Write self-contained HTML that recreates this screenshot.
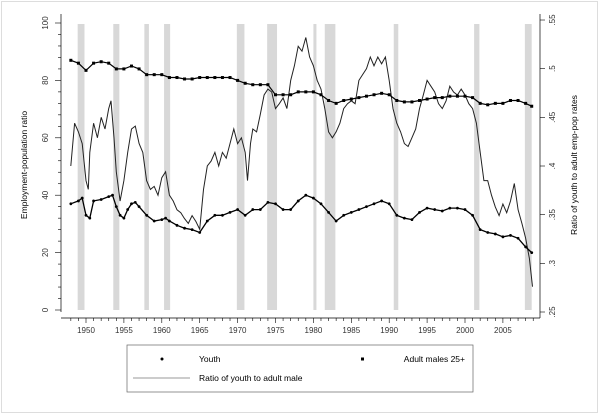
<!DOCTYPE html>
<html><head><meta charset="utf-8"><style>
body{margin:0;background:#fff;}
svg{display:block;font-family:"Liberation Sans",sans-serif;}
</style></head><body>
<svg id="chart" width="600" height="414" viewBox="0 0 600 414" xmlns="http://www.w3.org/2000/svg">
<rect x="1.5" y="1.5" width="596" height="411" fill="none" stroke="#bbb" stroke-dasharray="1,1"/>
<g id="bands"></g><g id="axes"></g><g id="series"></g>
<text transform="translate(27,165) rotate(-90)" font-size="8.5" text-anchor="middle">Employment-population ratio</text>
<text transform="translate(577,165) rotate(-90)" font-size="8.5" text-anchor="middle">Ratio of youth to adult emp-pop rates</text>
<g>
<rect x="127" y="345" width="346" height="47" fill="#fff" stroke="#666" stroke-width="0.7"/>
<circle cx="162" cy="359" r="1.5" fill="#000"/>
<text x="199" y="362" font-size="8.5">Youth</text>
<rect x="361" y="357.5" width="3" height="3" fill="#000"/>
<text x="465" y="362" font-size="8.5" text-anchor="end">Adult males 25+</text>
<line x1="133" y1="378" x2="190" y2="378" stroke="#999" stroke-width="1"/>
<text x="199" y="381" font-size="8.5">Ratio of youth to adult male</text>
</g>
</svg>
<script>
const recessions=[[1948.9,1949.8],[1953.6,1954.4],[1957.7,1958.3],[1960.3,1961.1],[1969.9,1970.9],[1973.9,1975.2],[1980.0,1980.4],[1981.5,1982.9],[1990.6,1991.2],[2001.2,2001.9],[2007.9,2008.8]];
const ratioYears=[1948,1948.5,1949,1949.5,1950,1950.3,1950.5,1951,1951.5,1952,1952.5,1953,1953.3,1953.7,1954,1954.5,1955,1955.5,1956,1956.5,1957,1957.5,1958,1958.5,1959,1959.5,1960,1960.5,1961,1961.5,1962,1962.5,1963,1963.5,1964,1964.5,1965,1965.5,1966,1966.5,1967,1967.5,1968,1968.5,1969,1969.5,1970,1970.5,1971,1971.3,1971.7,1972,1972.5,1973,1973.5,1974,1974.5,1975,1975.5,1976,1976.5,1977,1977.5,1978,1978.5,1979,1979.5,1980,1980.5,1981,1981.5,1982,1982.5,1983,1983.5,1984,1984.5,1985,1985.5,1986,1986.5,1987,1987.5,1988,1988.5,1989,1989.5,1990,1990.5,1991,1991.5,1992,1992.5,1993,1993.5,1994,1994.5,1995,1995.5,1996,1996.5,1997,1997.5,1998,1998.5,1999,1999.5,2000,2000.5,2001,2001.5,2002,2002.5,2003,2003.5,2004,2004.5,2005,2005.5,2006,2006.5,2007,2007.5,2008,2008.5,2008.9];
const ratioValues=[.400,.444,.435,.423,.385,.376,.414,.444,.429,.450,.438,.459,.467,.429,.394,.364,.385,.414,.438,.441,.423,.414,.385,.376,.379,.370,.388,.394,.370,.364,.355,.352,.346,.341,.349,.343,.335,.376,.400,.405,.414,.400,.414,.408,.423,.438,.423,.429,.414,.385,.423,.438,.435,.453,.473,.479,.476,.459,.464,.470,.459,.488,.503,.523,.518,.532,.512,.503,.488,.479,.459,.435,.429,.435,.444,.459,.464,.467,.464,.488,.494,.500,.512,.503,.512,.505,.512,.488,.459,.444,.435,.423,.420,.429,.438,.459,.473,.488,.482,.476,.464,.459,.467,.482,.476,.473,.479,.473,.464,.459,.444,.414,.385,.385,.370,.358,.349,.361,.352,.364,.382,.355,.341,.326,.305,.276];
const youthYears=[1948,1949,1949.5,1950,1950.5,1951,1952,1953,1953.5,1954,1954.5,1955,1955.5,1956,1956.5,1957,1958,1959,1960,1960.5,1961,1962,1963,1964,1965,1966,1967,1968,1969,1970,1971,1972,1973,1974,1975,1976,1977,1978,1979,1980,1981,1982,1983,1984,1985,1986,1987,1988,1989,1990,1991,1992,1993,1994,1995,1996,1997,1998,1999,2000,2001,2002,2003,2004,2005,2006,2007,2008,2008.8];
const youthValues=[37,38,39,33,32,38,38.5,39.5,40,36,33,32,35,37,37.5,36,33,31,31.5,32,31,29.5,28.5,28,27,31,33,33,34,35,33,35,35,37.5,37,35,35,38,40,39,37,34,31,33,34,35,36,37,38,37,33,32,31.5,34,35.5,35,34.5,35.5,35.5,35,33,28,27,26.5,25.5,26,25,22,20];
const adultYears=[1948,1949,1950,1951,1952,1953,1954,1955,1956,1957,1958,1959,1960,1961,1962,1963,1964,1965,1966,1967,1968,1969,1970,1971,1972,1973,1974,1975,1976,1977,1978,1979,1980,1981,1982,1983,1984,1985,1986,1987,1988,1989,1990,1991,1992,1993,1994,1995,1996,1997,1998,1999,2000,2001,2002,2003,2004,2005,2006,2007,2008,2008.8];
const adultValues=[87,86,83.5,86,86.5,86,84,84,85,84,82,82,82,81,81,80.5,80.5,81,81,81,81,81,80,79,78.5,78.5,78.5,75,75,75,76,76,76,75,73,72,73,73.5,74,74.5,75,75.5,75,73,72.5,72.5,73,73.5,74,74,74.5,74.5,74.5,74,72,71.5,72,72,73,73,72,71];
const leftTicks=[0,20,40,60,80,100];
const rightTicks=[.25,.3,.35,.4,.45,.5,.55];
const rightTickLabels=[".25",".3",".35",".4",".45",".5",".55"];
const yearTicks=[1950,1955,1960,1965,1970,1975,1980,1985,1990,1995,2000,2005];

const NS="http://www.w3.org/2000/svg";
const xS=y=>86+(y-1950)*7.58;
const yL=v=>310-v*2.87;
const yR=r=>312-(r-.25)*973.3;
function mk(tag,attrs,parent){const e=document.createElementNS(NS,tag);for(const k in attrs)e.setAttribute(k,attrs[k]);parent.appendChild(e);return e;}
const bands=document.getElementById('bands'),axes=document.getElementById('axes'),ser=document.getElementById('series');
recessions.forEach(r=>{const e=mk('rect',{x:xS(r[0]),y:24,width:Math.max(2,xS(r[1])-xS(r[0])),height:286,fill:'#d8d8d8'},bands);

});
let a=mk('line',{x1:61,y1:14,x2:61,y2:312,stroke:'#000','stroke-width':0.7},axes);

a=mk('line',{x1:540,y1:14,x2:540,y2:318,stroke:'#000','stroke-width':0.7},axes);

a=mk('line',{x1:61,y1:318,x2:540,y2:318,stroke:'#000','stroke-width':0.7},axes);

for(let v=0;v<=100;v+=4){mk('line',{x1:v%20===0?55:58,y1:yL(v),x2:61,y2:yL(v),stroke:'#000','stroke-width':0.6},axes);}
leftTicks.forEach(v=>{const t=mk('text',{transform:`translate(48,${yL(v)}) rotate(-90)`,'font-size':8,'text-anchor':'middle',fill:'#333'},axes);t.textContent=v;
});
rightTicks.forEach((r,i)=>{mk('line',{x1:540,y1:yR(r),x2:545,y2:yR(r),stroke:'#000','stroke-width':0.6},axes);
const t=mk('text',{transform:`translate(555,${yR(r)}) rotate(-90)`,'font-size':8,'text-anchor':'middle',fill:'#333'},axes);t.textContent=rightTickLabels[i];
});
for(let y=1948;y<=2009;y++){mk('line',{x1:xS(y),y1:318,x2:xS(y),y2:y%5===0?323:321,stroke:'#000','stroke-width':0.6},axes);}
yearTicks.forEach(y=>{const t=mk('text',{x:xS(y),y:333,'font-size':8,'text-anchor':'middle',fill:'#333'},axes);t.textContent=y;
});
function path(xs,vs,fy){return xs.map((x,i)=>(i?'L':'M')+xS(x).toFixed(1)+','+fy(vs[i]).toFixed(1)).join('');}
let p=mk('path',{d:path(ratioYears,ratioValues,yR),fill:'none',stroke:'#222','stroke-width':1},ser);

p=mk('path',{d:path(adultYears,adultValues,yL),fill:'none',stroke:'#000','stroke-width':1.2},ser);

p=mk('path',{d:path(youthYears,youthValues,yL),fill:'none',stroke:'#000','stroke-width':1.3},ser);

adultYears.forEach((x,i)=>{const m=mk('rect',{x:xS(x)-1.5,y:yL(adultValues[i])-1.5,width:3,height:3,fill:'#000'},ser);
});
youthYears.forEach((x,i)=>{const m=mk('circle',{cx:xS(x),cy:yL(youthValues[i]),r:1.4,fill:'#000'},ser);
});
</script>
</body></html>
